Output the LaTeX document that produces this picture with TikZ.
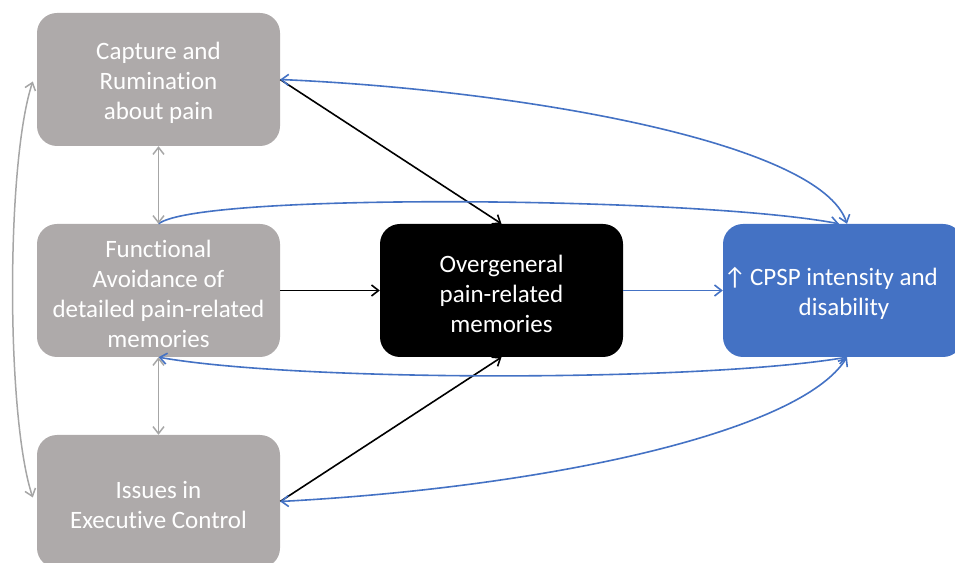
\documentclass[tikz,border=0pt]{standalone}
\usepackage{fontspec}
\setmainfont{Carlito}[Ligatures=NoCommon]
\usetikzlibrary{arrows.meta}
\definecolor{boxgray}{HTML}{AEAAAA}
\definecolor{cblue}{HTML}{4472C4}
\definecolor{agray}{HTML}{A6A6A6}
\begin{document}
\begin{tikzpicture}[x=1pt,y=1pt,
  >={Straight Barb[length=7pt,width=11pt]},
  box/.style={rounded corners=20pt, minimum width=243pt, minimum height=133pt,
    inner sep=0pt},
  graybox/.style={box, fill=boxgray},
  blackbox/.style={box, fill=black},
  bluebox/.style={box, fill=cblue},
  lbl/.style={align=center, text=white, inner sep=0pt,
    font=\fontsize{25}{30}\selectfont},
  blk/.style={draw=black, line width=1.6pt},
  blu/.style={draw=cblue, line width=1.6pt},
  gry/.style={draw=agray, line width=1.5pt}]
\useasboundingbox (0,0) rectangle (955,562);
\node[graybox] (cap) at (158.5,482.5) {};
\node[graybox] (fun) at (158.5,271.5) {};
\node[graybox] (iss) at (158.5,60.5) {};
\node[blackbox] (ovg) at (501.5,271.5) {};
\node[bluebox, minimum width=240pt] (cps) at (843,271.5) {};
\node[lbl] (capT) at ([yshift=-3pt]cap.center) {Capture and\\Rumination\\about pain};
\node[lbl] (funT) at ([yshift=-3pt]fun.center) {Functional\\Avoidance of\\detailed pain-related\\memories};
\node[lbl] (issT) at ([yshift=-3pt]iss.center) {Issues in\\Executive Control};
\node[lbl] (ovgT) at ([yshift=-3pt]ovg.center) {Overgeneral\\pain-related\\memories};
\node[lbl] (cpsT) at ([shift={(1pt,-3pt)}]cps.center) {\llap{↑\hspace{4pt}}CPSP intensity and\\disability};
\coordinate (cpsN) at ([xshift=4pt]cps.north);
\coordinate (cpsS) at ([xshift=4pt]cps.south);
% black arrows
\draw[blk,->] (cap.east) -- (ovg.north);
\draw[blk,->] (fun.east) -- (ovg.west);
\draw[blk,->] (iss.east) -- (ovg.south);
% blue arrows
\draw[blu,->] (ovg.east) -- (cps.west);
\draw[blu,<->] (cap.east) .. controls (520,472) and (820,420) .. (cpsN);
\draw[blu,->] (fun.north) .. controls (200,370) and (700,365) .. ([xshift=-4pt]cps.north);
\draw[blu,<->] (fun.south) .. controls (300,180) and (700,180) .. (cpsS);
\draw[blu,<->] (iss.east) .. controls (550,75) and (800,130) .. (cpsS);
% gray arrows
\draw[gry,<->] (cap.south) -- (fun.north);
\draw[gry,<->] (fun.south) -- (iss.north);
\coordinate (gl1) at ([shift={(-4,-2)}]cap.west);
\coordinate (gl2) at ([shift={(-4,4)}]iss.west);
\draw[gry,<->] (gl1) .. controls (6,400) and (6,145) .. (gl2);
\end{tikzpicture}
\end{document}
